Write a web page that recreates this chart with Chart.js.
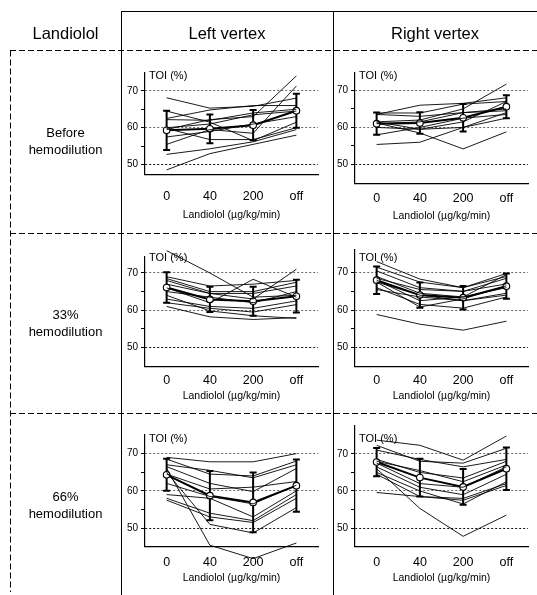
<!DOCTYPE html>
<html>
<head>
<meta charset="utf-8">
<script src="https://cdn.jsdelivr.net/npm/chart.js@4.4.0/dist/chart.umd.min.js"></script>
<style>
  body { margin: 0; background: #fff; }
  #page { position: relative; width: 537px; height: 595px; overflow: hidden;
          font-family: "Liberation Sans", Arial, sans-serif; color: #000; }
  #table { position: absolute; left: 0; top: 0; }
  .head { position: absolute; top: 23px; height: 20px; line-height: 20px; font-size: 16.5px; text-align: center; }
  .rowlab { position: absolute; left: 10px; width: 111px; text-align: center; font-size: 13px; line-height: 17px; }
  .panel { position: absolute; }
</style>
</head>
<body>
<div id="page">
  <canvas id="table" width="537" height="595"></canvas>
  <div class="head" style="left:10px;width:111px">Landiolol</div>
  <div class="head" style="left:121px;width:212px">Left vertex</div>
  <div class="head" style="left:333px;width:204px">Right vertex</div>
  <div class="rowlab" style="top:124px">Before<br>hemodilution</div>
  <div class="rowlab" style="top:306px">33%<br>hemodilution</div>
  <div class="rowlab" style="top:488px">66%<br>hemodilution</div>
</div>
<script>
// doses on the x axis
const doses = ["0", "40", "200", "off"];
const yTicks = [50, 55, 60, 65, 70];
const yLabelled = [50, 60, 70];

// individual subjects, TOI (%) at 0 / 40 / 200 / off
const leftBefore = [
  [68.1, 65.3, 65.8, 68.0],
  [62.5, 64.8, 66.0, 66.0],
  [62.2, 62.0, 64.0, 65.0],
  [60.0, 61.0, 63.5, 64.5],
  [59.5, 62.2, 63.0, 74.0],
  [64.5, 61.5, 56.5, 61.5],
  [57.5, 59.0, 61.0, 63.0],
  [59.8, 56.8, 56.8, 60.0],
  [55.5, 59.5, 58.5, 71.3],
  [52.8, 54.3, 56.2, 59.5],
  [48.6, 53.0, 55.5, 58.0]
];
const leftBeforeMean = [59.3, 59.7, 60.7, 64.6];
const leftBeforeSd = [5.3, 3.9, 4.1, 4.6];

const rightBefore = [
  [63.9, 63.9, 66.3, 67.0],
  [63.5, 66.0, 66.5, 68.0],
  [61.5, 62.0, 65.0, 71.7],
  [61.0, 61.5, 64.0, 65.0],
  [61.2, 58.5, 54.2, 58.8],
  [61.5, 59.5, 61.5, 67.0],
  [60.0, 59.5, 60.0, 64.0],
  [58.0, 60.0, 62.5, 63.5],
  [55.4, 56.0, 60.0, 62.5],
  [63.5, 63.0, 64.0, 64.5]
];
const rightBeforeMean = [61.0, 61.2, 62.6, 65.6];
const rightBeforeSd = [3.0, 2.9, 3.7, 3.1];

const left33 = [
  [76.0, 70.0, 63.5, 64.0],
  [69.0, 66.5, 67.0, 68.0],
  [68.5, 65.0, 65.0, 67.5],
  [68.0, 64.5, 63.0, 71.0],
  [67.0, 64.5, 64.5, 66.5],
  [66.0, 62.0, 68.3, 63.5],
  [65.0, 63.5, 62.0, 65.0],
  [63.0, 61.0, 60.5, 62.5],
  [62.0, 60.5, 59.5, 61.5],
  [61.0, 58.2, 57.5, 58.0],
  [64.0, 59.8, 58.5, 57.8]
];
const left33Mean = [66.1, 62.9, 62.4, 63.75];
const left33Sd = [4.1, 3.4, 3.9, 4.4];

const right33 = [
  [73.0, 68.3, 66.0, 69.0],
  [71.5, 67.5, 66.0, 69.8],
  [70.5, 66.0, 65.0, 68.5],
  [69.0, 64.5, 63.5, 69.5],
  [68.5, 65.5, 65.0, 67.0],
  [68.0, 62.5, 63.5, 66.0],
  [67.5, 60.8, 63.0, 66.5],
  [67.5, 64.0, 62.5, 64.5],
  [65.5, 63.5, 62.5, 64.0],
  [66.0, 61.5, 60.5, 63.5],
  [58.8, 56.2, 54.6, 57.0]
];
const right33Mean = [68.0, 64.0, 63.3, 66.4];
const right33Sd = [3.7, 3.4, 3.15, 3.4];

const left66 = [
  [69.0, 67.8, 67.8, 70.0],
  [68.5, 64.5, 64.0, 68.0],
  [67.0, 65.5, 63.5, 67.0],
  [66.5, 62.0, 59.8, 66.0],
  [66.0, 45.4, 41.8, 46.0],
  [64.5, 60.5, 61.0, 62.5],
  [62.0, 58.5, 56.5, 61.5],
  [59.0, 58.0, 53.0, 60.0],
  [58.0, 54.0, 52.0, 59.0],
  [57.5, 53.0, 51.5, 58.0],
  [65.0, 51.0, 48.7, 55.5]
];
const left66Mean = [64.3, 58.7, 56.9, 61.4];
const left66Sd = [4.3, 6.6, 8.0, 7.0];

const right66 = [
  [73.7, 72.3, 68.3, 74.8],
  [72.3, 68.0, 67.5, 71.5],
  [71.0, 68.5, 66.5, 68.5],
  [68.5, 65.0, 63.5, 68.0],
  [68.0, 65.5, 62.5, 67.0],
  [67.5, 62.0, 61.0, 66.5],
  [66.5, 61.0, 59.0, 64.5],
  [65.0, 60.0, 56.5, 62.5],
  [64.5, 58.5, 58.0, 62.0],
  [66.0, 55.3, 47.8, 53.5],
  [59.6, 58.5, 57.5, 61.5]
];
const right66Mean = [67.8, 63.6, 61.1, 66.0];
const right66Sd = [3.8, 5.1, 4.8, 5.7];

// where each panel sits on the page (plot area edges, axis label rows)
const panels = [
  { subj: leftBefore,  mean: leftBeforeMean,  sd: leftBeforeSd,  l: 145, r: 318, t: 73,  b: 175, yMin: 47.3, yMax: 74.8, tickY: 196.7, titleY: 215 },
  { subj: rightBefore, mean: rightBeforeMean, sd: rightBeforeSd, l: 355, r: 528, t: 73,  b: 184, yMin: 44.8, yMax: 74.7, tickY: 199.3, titleY: 216 },
  { subj: left33,      mean: left33Mean,      sd: left33Sd,      l: 145, r: 318, t: 257, b: 367, yMin: 44.8, yMax: 74.3, tickY: 380.7, titleY: 396 },
  { subj: right33,     mean: right33Mean,     sd: right33Sd,     l: 355, r: 528, t: 250, b: 367, yMin: 44.8, yMax: 76.1, tickY: 380.7, titleY: 396 },
  { subj: left66,      mean: left66Mean,      sd: left66Sd,      l: 145, r: 318, t: 435, b: 547, yMin: 45,   yMax: 75,   tickY: 563.3, titleY: 578 },
  { subj: right66,     mean: right66Mean,     sd: right66Sd,     l: 355, r: 528, t: 426, b: 547, yMin: 45,   yMax: 77.5, tickY: 562.7, titleY: 578 }
];

// table frame
function drawTable() {
  const ctx = document.getElementById("table").getContext("2d");
  ctx.strokeStyle = "#000";
  ctx.lineWidth = 1;
  const line = (x1, y1, x2, y2) => {
    ctx.beginPath();
    ctx.moveTo(x1, y1);
    ctx.lineTo(x2, y2);
    ctx.stroke();
  };
  line(121, 11.5, 537, 11.5);
  line(121.5, 11, 121.5, 595);
  line(333.5, 11, 333.5, 595);
  ctx.setLineDash([6, 3]);
  line(10, 50.5, 537, 50.5);
  line(10, 233.5, 537, 233.5);
  line(10, 413.5, 537, 413.5);
  line(10.5, 50.5, 10.5, 592);
}
drawTable();

const FONT = "'Liberation Sans', Arial, sans-serif";
const Y_W = 25, PAD_T = 14, PAD_R = 12;

const errorBars = {
  id: "errorBars",
  beforeDatasetDraw(chart, args, opts) {
    if (args.index !== chart.data.datasets.length - 1) return;
    const { ctx } = chart;
    const y = chart.scales.y;
    const meta = chart.getDatasetMeta(args.index);
    ctx.save();
    ctx.strokeStyle = "#000";
    ctx.lineWidth = 2;
    meta.data.forEach((pt, i) => {
      const m = opts.mean[i], s = opts.sd[i];
      const y1 = y.getPixelForValue(m + s);
      const y2 = y.getPixelForValue(m - s);
      ctx.beginPath();
      ctx.moveTo(pt.x, y1);
      ctx.lineTo(pt.x, y2);
      ctx.moveTo(pt.x - 3.5, y1);
      ctx.lineTo(pt.x + 3.5, y1);
      ctx.moveTo(pt.x - 3.5, y2);
      ctx.lineTo(pt.x + 3.5, y2);
      ctx.stroke();
    });
    ctx.restore();
  }
};

const toiLabel = {
  id: "toiLabel",
  afterDraw(chart) {
    const { ctx, chartArea } = chart;
    ctx.save();
    ctx.font = "11px " + FONT;
    ctx.fillStyle = "#000";
    ctx.textBaseline = "middle";
    ctx.textAlign = "left";
    ctx.fillText("TOI (%)", chartArea.left + 4, chart.scales.y.getPixelForValue(74));
    ctx.restore();
  }
};

panels.forEach(p => {
  const xH = p.titleY + 9.3 - p.b;
  const cv = document.createElement("canvas");
  cv.className = "panel";
  const w = p.r - p.l + Y_W + PAD_R;
  const h = p.b - p.t + PAD_T + Math.round(xH);
  cv.width = w;
  cv.height = h;
  cv.style.left = (p.l - Y_W) + "px";
  cv.style.top = (p.t - PAD_T) + "px";
  cv.style.width = w + "px";
  cv.style.height = h + "px";
  document.getElementById("page").appendChild(cv);

  const datasets = p.subj.map(s => ({
    data: s,
    borderColor: "#000",
    borderWidth: 0.9,
    pointRadius: 0,
    clip: false
  }));
  datasets.push({
    data: p.mean,
    borderColor: "#000",
    borderWidth: 2,
    pointRadius: 3.3,
    pointBackgroundColor: "#fff",
    pointBorderColor: "#000",
    pointBorderWidth: 1.1,
    clip: false
  });

  new Chart(cv, {
    type: "line",
    data: { labels: doses, datasets: datasets },
    options: {
      responsive: false,
      animation: false,
      devicePixelRatio: 1,
      layout: { padding: { top: PAD_T, right: PAD_R, left: 0, bottom: 0 } },
      plugins: {
        legend: { display: false },
        tooltip: { enabled: false },
        errorBars: { mean: p.mean, sd: p.sd }
      },
      scales: {
        x: {
          offset: true,
          grid: { display: true, drawOnChartArea: false, drawTicks: false },
          border: { display: true, color: "#000", width: 1.2 },
          ticks: {
            color: "#000",
            padding: p.tickY - p.b - 7.5,
            font: { family: FONT, size: 12.5 }
          },
          title: {
            display: true,
            text: "Landiolol (µg/kg/min)",
            color: "#000",
            font: { family: FONT, size: 10.5 },
            padding: { top: 0, bottom: 3 }
          },
          afterFit: s => { s.height = xH; }
        },
        y: {
          min: p.yMin,
          max: p.yMax,
          afterBuildTicks: s => { s.ticks = yTicks.map(v => ({ value: v })); },
          grid: {
            color: c => (c.tick && yLabelled.includes(c.tick.value)) ? (c.tick.value === 50 ? "#111" : "#666") : "rgba(0,0,0,0)",
            tickColor: "#000",
            tickLength: 4,
            tickBorderDash: [],
            lineWidth: 1
          },
          border: { display: true, color: "#000", width: 1.2, dash: [2, 2] },
          ticks: {
            color: "#000",
            padding: 3,
            font: { family: FONT, size: 10 },
            callback: v => yLabelled.includes(v) ? String(v) : ""
          },
          afterFit: s => { s.width = Y_W; }
        }
      }
    },
    plugins: [errorBars, toiLabel]
  });
});
</script>
</body>
</html>
